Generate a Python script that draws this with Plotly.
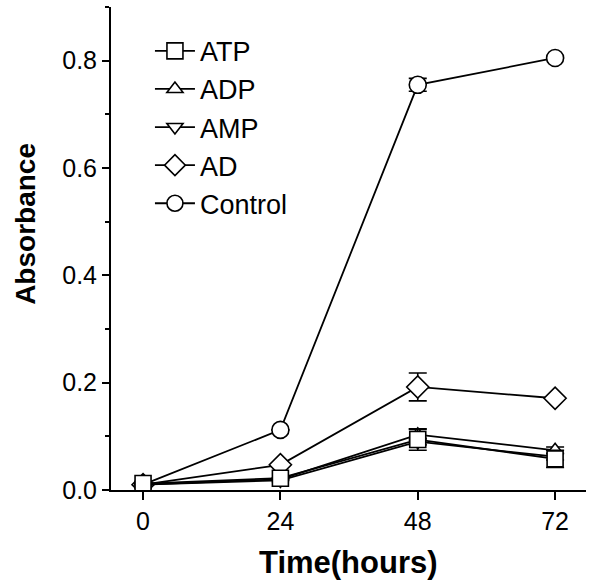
import plotly.graph_objects as go

time_h = [0, 24, 48, 72]
series_names = ["ATP", "ADP", "AMP", "AD", "Control"]
atp = [0.012, 0.022, 0.094, 0.058]
atp_err = [0, 0, 0.02, 0.016]
adp = [0.010, 0.020, 0.103, 0.074]
adp_err = [0, 0, 0.01, 0.006]
amp = [0.010, 0.018, 0.090, 0.062]
amp_err = [0, 0, 0.006, 0.006]
ad = [0.010, 0.047, 0.192, 0.171]
ad_err = [0, 0, 0.026, 0]
control = [0.010, 0.112, 0.755, 0.805]
control_err = [0, 0, 0.012, 0]

y_tickvals = [0.0, 0.2, 0.4, 0.6, 0.8]
y_ticktext = ["0.0", "0.2", "0.4", "0.6", "0.8"]
x_tickvals = [0, 24, 48, 72]

FONT = "Liberation Sans, Arial, sans-serif"

# drawing order (bottom -> top), legend order via legendrank
traces = [
    ("Control", control, control_err, "circle", 17, 5),
    ("AD", ad, ad_err, "diamond", 17, 4),
    ("AMP", amp, amp_err, "triangle-down", 14, 3),
    ("ADP", adp, adp_err, "triangle-up", 14, 2),
    ("ATP", atp, atp_err, "square", 16, 1),
]

fig = go.Figure()
for name, vals, err, sym, size, rank in traces:
    fig.add_trace(go.Scatter(
        x=time_h, y=vals, name=name, mode="lines+markers",
        line=dict(color="black", width=1.8),
        marker=dict(symbol=sym, size=size, color="white",
                    line=dict(color="black", width=1.6)),
        error_y=dict(type="data", array=err, visible=True, color="black",
                     thickness=1.6, width=9),
        legendrank=rank, legendgroup=name,
    ))

fig.update_layout(
    width=589, height=581,
    margin=dict(l=111, r=3, t=7, b=91),
    paper_bgcolor="white", plot_bgcolor="white",
    font=dict(family=FONT, color="black", size=25),
    showlegend=True,
    legend=dict(x=0.082, y=0.959, xanchor="left", yanchor="top",
                bgcolor="rgba(0,0,0,0)", font=dict(size=27, family=FONT),
                tracegroupgap=0, itemwidth=40),
    xaxis=dict(range=[-5.6, 77.4], tickvals=x_tickvals, ticks="outside",
               ticklen=8, tickwidth=1.5, tickcolor="black",
               showline=True, linecolor="black", linewidth=2,
               showgrid=False, zeroline=False,
               tickfont=dict(size=25, family=FONT)),
    yaxis=dict(range=[0, 0.9], tickvals=y_tickvals, ticktext=y_ticktext,
               ticks="outside", ticklen=7, tickwidth=1.5, tickcolor="black",
               minor=dict(dtick=0.1, tick0=0, ticks="outside", ticklen=4,
                          tickwidth=1.5, tickcolor="black"),
               showline=True, linecolor="black", linewidth=2,
               showgrid=False, zeroline=False,
               tickfont=dict(size=25, family=FONT)),
    annotations=[
        dict(text="<b>Time(hours)</b>", xref="paper", yref="paper",
             x=0.5, y=-0.15, xanchor="center", yanchor="middle",
             showarrow=False, font=dict(size=31, family=FONT)),
        dict(text="<b>Absorbance</b>", xref="paper", yref="paper",
             x=-0.18, y=0.55, xanchor="center", yanchor="middle",
             textangle=-90, showarrow=False, font=dict(size=28, family=FONT)),
    ],
)

fig.write_html("out.html")
